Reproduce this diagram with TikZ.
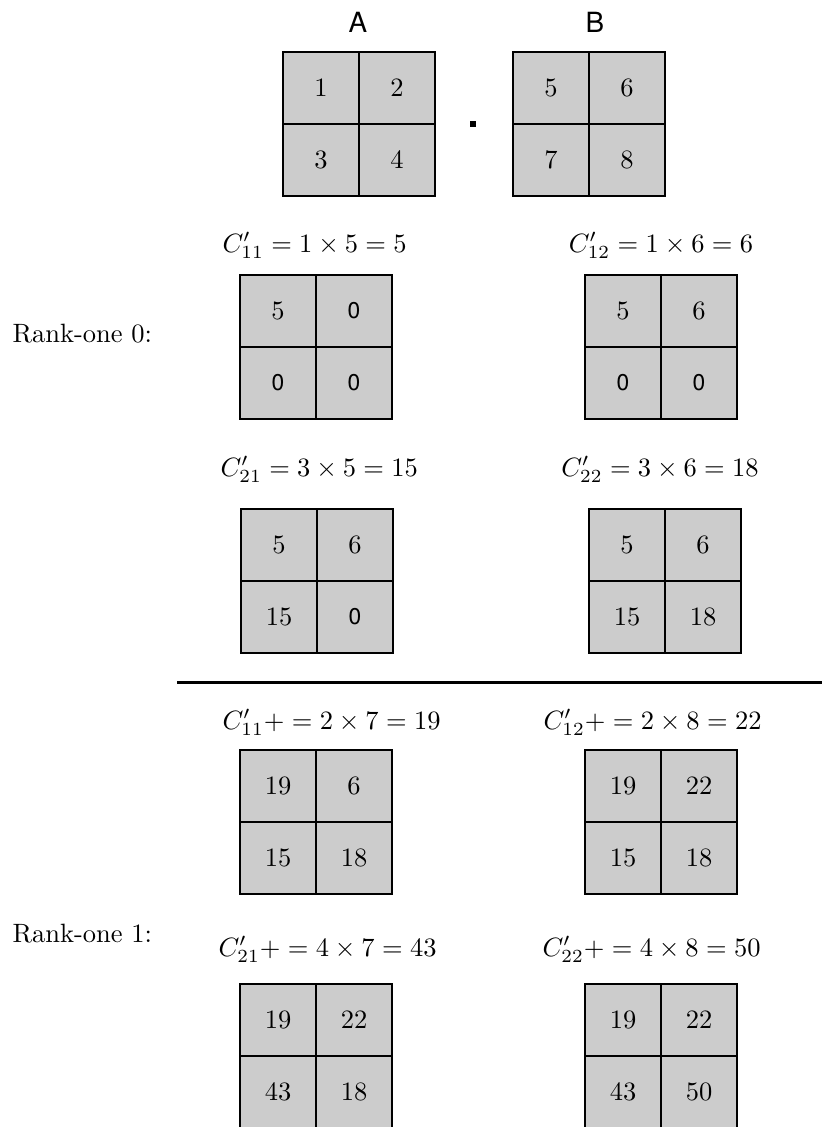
\documentclass[tikz,border=0pt]{standalone}
\usepackage{fontspec}
\newfontfamily\hv{TeX Gyre Heros}
\definecolor{cellgray}{RGB}{204,204,204}
\newcommand\zs{{\hv\fontsize{8.6}{10}\selectfont 0}}
\newcommand\gridmat[7]{%
  \begin{scope}[shift={(#2,#3)}]
    \node[cellbox] (#1-11) at (38,36) {#4};
    \node[cellbox] (#1-12) at (114,36) {#5};
    \node[cellbox] (#1-21) at (38,108) {#6};
    \node[cellbox] (#1-22) at (114,108) {#7};
  \end{scope}}
\begin{document}
\begin{tikzpicture}[x=0.3774pt,y=-0.3774pt,
  cellbox/.style={draw, fill=cellgray, line width=0.75pt, inner sep=0pt,
    minimum width=28.68pt, minimum height=27.17pt},
  hdr/.style={font=\hv\fontsize{10.5}{12}\selectfont, anchor=base, inner sep=0pt},
  eq/.style={anchor=base west, inner sep=0pt},
  eqc/.style={anchor=base, inner sep=0pt},
  rank/.style={anchor=base west, inner sep=0pt}]
\useasboundingbox (0,0) rectangle (822,1127);
% top: A . B
\node[hdr] (lblA) at (358,32) {A};
\node[hdr] (lblB) at (595,32) {B};
\gridmat{A}{283}{52}{1}{2}{3}{4}
\node[fill, inner sep=0pt, minimum size=2.3pt] (dot) at (472.7,124) {};
\gridmat{B}{513}{52}{5}{6}{7}{8}
% Rank-one 0
\node[rank] (r0) at (12,342) {Rank-one 0:};
\node[eq] (e011) at (222,252) {$C'_{11} = 1 \times 5 = 5$};
\node[eqc] (e012) at (661,252) {$C'_{12} = 1 \times 6 = 6$};
\gridmat{P}{240}{275}{5}{\zs}{\zs}{\zs}
\gridmat{Q}{585}{275}{5}{6}{\zs}{\zs}
\node[eq] (e021) at (220,476) {$C'_{21} = 3 \times 5 = 15$};
\node[eqc] (e022) at (660,476) {$C'_{22} = 3 \times 6 = 18$};
\gridmat{R}{241}{509}{5}{6}{15}{\zs}
\gridmat{S}{589}{509}{5}{6}{15}{18}
% separator
\coordinate (sepL) at (177,682);
\coordinate (sepR) at (822,682);
\draw[line width=1.13pt] (sepL) -- (sepR);
% Rank-one 1
\node[rank] (r1) at (12,942) {Rank-one 1:};
\node[eq] (e111) at (222,729) {$C'_{11} {+}= 2 \times 7 = 19$};
\node[eq] (e112) at (543,729) {$C'_{12} {+}= 2 \times 8 = 22$};
\gridmat{T}{240}{750}{19}{6}{15}{18}
\gridmat{U}{585}{750}{19}{22}{15}{18}
\node[eq] (e121) at (218,956) {$C'_{21} {+}= 4 \times 7 = 43$};
\node[eq] (e122) at (542,956) {$C'_{22} {+}= 4 \times 8 = 50$};
\gridmat{V}{240}{984}{19}{22}{43}{18}
\gridmat{W}{585}{984}{19}{22}{43}{50}
\end{tikzpicture}
\end{document}
